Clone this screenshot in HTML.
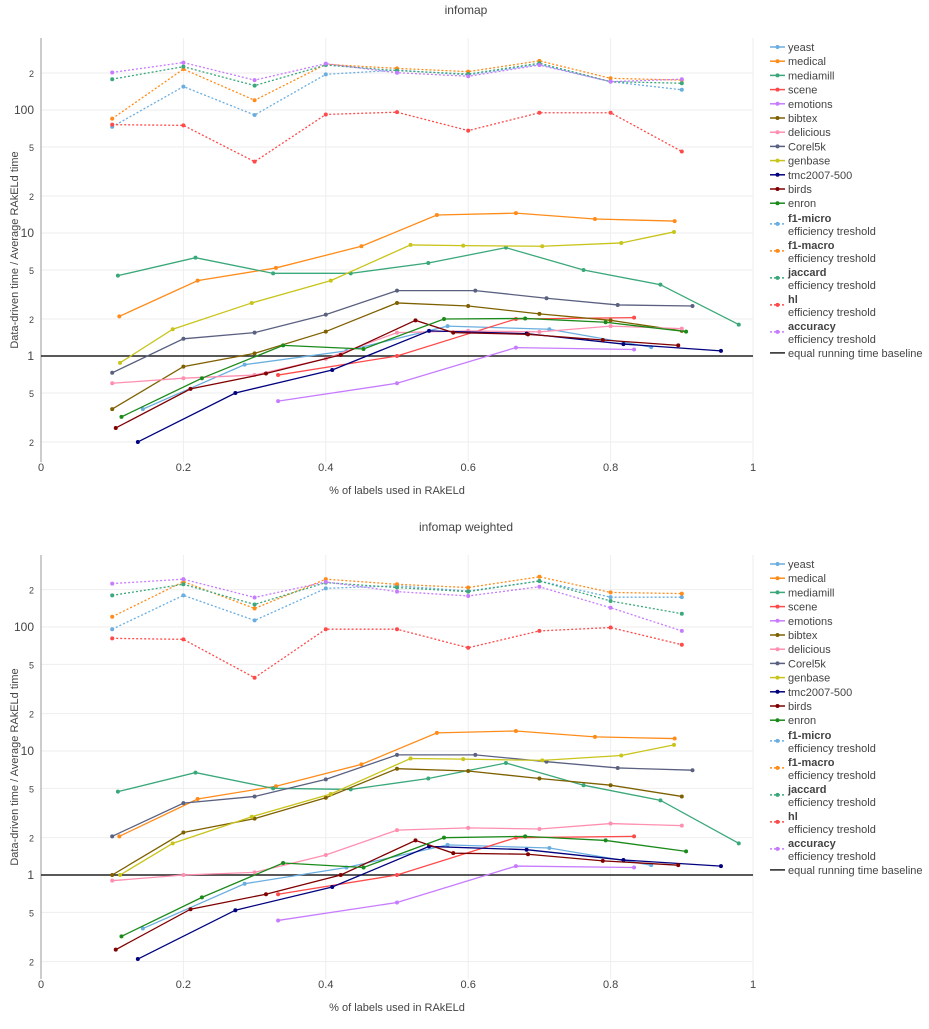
<!DOCTYPE html>
<html><head><meta charset="utf-8"><style>
body{margin:0;background:#fff;font-family:"Liberation Sans",sans-serif;}
svg text{font-family:"Liberation Sans",sans-serif;fill:#444;}
</style></head><body>
<svg id="chart" width="929" height="1024" xmlns="http://www.w3.org/2000/svg"></svg>
<script>
// ---- data ----
const xTicks = [0, 0.2, 0.4, 0.6, 0.8, 1];
const xTickLabels = ["0", "0.2", "0.4", "0.6", "0.8", "1"];
const yTicks = [0.2, 0.5, 1, 2, 5, 10, 20, 50, 100, 200];
const yTickLabels = ["2", "5", "1", "2", "5", "10", "2", "5", "100", "2"];
const effX = [0.1, 0.2, 0.3, 0.4, 0.5, 0.6, 0.7, 0.8, 0.9];

const xYeast = [0.143, 0.286, 0.429, 0.571, 0.714, 0.857];
const topYeast = [0.37, 0.85, 1.1, 1.75, 1.65, 1.18];
const botYeast = [0.37, 0.85, 1.15, 1.75, 1.65, 1.2];
const xMedical = [0.11, 0.22, 0.33, 0.45, 0.556, 0.667, 0.778, 0.89];
const topMedical = [2.1, 4.1, 5.2, 7.8, 14, 14.5, 13, 12.5];
const botMedical = [2.05, 4.1, 5.2, 7.8, 14, 14.5, 13, 12.6];
const xMediamill = [0.108, 0.217, 0.326, 0.435, 0.544, 0.653, 0.762, 0.87, 0.98];
const topMediamill = [4.5, 6.3, 4.7, 4.7, 5.7, 7.6, 5.0, 3.8, 1.8];
const botMediamill = [4.7, 6.7, 5.0, 4.9, 6.0, 8.0, 5.3, 4.0, 1.8];
const xScene = [0.333, 0.5, 0.667, 0.833];
const topScene = [0.7, 1.0, 2.0, 2.05];
const botScene = [0.7, 1.0, 2.0, 2.05];
const xEmotions = [0.333, 0.5, 0.667, 0.833];
const topEmotions = [0.43, 0.6, 1.17, 1.13];
const botEmotions = [0.43, 0.6, 1.18, 1.15];
const xBibtex = [0.1, 0.2, 0.3, 0.4, 0.5, 0.6, 0.7, 0.8, 0.9];
const topBibtex = [0.37, 0.82, 1.05, 1.58, 2.7, 2.55, 2.2, 1.95, 1.6];
const botBibtex = [1.0, 2.2, 2.85, 4.2, 7.2, 6.9, 6.0, 5.3, 4.3];
const xDelicious = [0.1, 0.2, 0.3, 0.4, 0.5, 0.6, 0.7, 0.8, 0.9];
const topDelicious = [0.6, 0.66, 0.7, 0.95, 1.55, 1.6, 1.57, 1.75, 1.67];
const botDelicious = [0.9, 1.0, 1.05, 1.45, 2.3, 2.4, 2.35, 2.6, 2.5];
const xCorel = [0.1, 0.2, 0.3, 0.4, 0.5, 0.61, 0.71, 0.81, 0.915];
const topCorel = [0.73, 1.38, 1.55, 2.17, 3.4, 3.4, 2.95, 2.6, 2.55];
const botCorel = [2.05, 3.8, 4.3, 5.9, 9.3, 9.3, 8.2, 7.3, 7.0];
const xGenbase = [0.111, 0.185, 0.296, 0.407, 0.519, 0.593, 0.704, 0.815, 0.889];
const topGenbase = [0.88, 1.65, 2.7, 4.1, 8.0, 7.9, 7.8, 8.3, 10.2];
const botGenbase = [1.0, 1.8, 2.95, 4.5, 8.7, 8.6, 8.4, 9.2, 11.2];
const xTmc = [0.136, 0.273, 0.409, 0.545, 0.682, 0.818, 0.955];
const topTmc = [0.2, 0.5, 0.77, 1.6, 1.52, 1.25, 1.1];
const botTmc = [0.21, 0.52, 0.8, 1.7, 1.6, 1.32, 1.18];
const xBirds = [0.105, 0.21, 0.316, 0.421, 0.526, 0.579, 0.684, 0.789, 0.895];
const topBirds = [0.26, 0.54, 0.72, 1.02, 1.95, 1.55, 1.5, 1.35, 1.22];
const botBirds = [0.25, 0.53, 0.7, 1.0, 1.9, 1.5, 1.47, 1.3, 1.2];
const xEnron = [0.113, 0.226, 0.34, 0.453, 0.566, 0.68, 0.793, 0.906];
const topEnron = [0.32, 0.66, 1.22, 1.14, 2.0, 2.02, 1.88, 1.58];
const botEnron = [0.32, 0.66, 1.25, 1.15, 2.0, 2.05, 1.9, 1.55];

const topF1micro = [73, 155, 91, 195, 211, 193, 235, 170, 146];
const topF1macro = [85, 215, 120, 235, 218, 205, 251, 181, 175];
const topJaccard = [178, 225, 158, 232, 209, 196, 240, 170, 165];
const topHl = [76, 75, 38, 92, 96, 68, 95, 95, 46];
const topAccuracy = [202, 243, 175, 238, 201, 188, 232, 170, 178];
const botF1micro = [96, 180, 113, 205, 215, 195, 235, 174, 174];
const botF1macro = [121, 232, 141, 243, 221, 208, 254, 190, 186];
const botJaccard = [180, 221, 152, 228, 208, 193, 235, 162, 128];
const botHl = [81, 79.5, 39, 96, 96, 68, 93, 99, 72];
const botAccuracy = [224, 243, 173, 231, 193, 178, 211, 143, 93];

const NS = "http://www.w3.org/2000/svg";
const svg = document.getElementById("chart");
function mk(tag, attrs, parent) {
  const e = document.createElementNS(NS, tag);
  for (const k in attrs) e.setAttribute(k, attrs[k]);
  (parent || svg).appendChild(e);
  return e;
}
const X0 = 41, X1 = 753;
function sx(v) { return X0 + (X1 - X0) * v; }

const series = [
  ["yeast", "#6aaee0", xYeast, topYeast, botYeast],
  ["medical", "#ff8c1a", xMedical, topMedical, botMedical],
  ["mediamill", "#3aa87a", xMediamill, topMediamill, botMediamill],
  ["scene", "#ff4a4a", xScene, topScene, botScene],
  ["emotions", "#c77cff", xEmotions, topEmotions, botEmotions],
  ["bibtex", "#7f6000", xBibtex, topBibtex, botBibtex],
  ["delicious", "#ff8fb0", xDelicious, topDelicious, botDelicious],
  ["Corel5k", "#5a6080", xCorel, topCorel, botCorel],
  ["genbase", "#c8c41a", xGenbase, topGenbase, botGenbase],
  ["tmc2007-500", "#00007f", xTmc, topTmc, botTmc],
  ["birds", "#800000", xBirds, topBirds, botBirds],
  ["enron", "#1a8a1a", xEnron, topEnron, botEnron]
];
const effSeries = [
  ["f1-micro", "#6aaee0", topF1micro, botF1micro],
  ["f1-macro", "#ff8c1a", topF1macro, botF1macro],
  ["jaccard", "#3aa87a", topJaccard, botJaccard],
  ["hl", "#ff4a4a", topHl, botHl],
  ["accuracy", "#c77cff", topAccuracy, botAccuracy]
];

function drawPanel(idx, title, yTop, yBot, y1, dec, legTop) {
  const g = mk("g", {});
  
  
  const sy = v => y1 - dec * Math.log10(v);
  const t = mk("text", {x: 466, y: yTop - 24, "text-anchor": "middle", "font-size": 12}, g);
  t.textContent = title;
  
  
  // grid
  xTicks.forEach((v, i) => {
    if (i > 0) {
      const l = mk("line", {x1: sx(v), x2: sx(v), y1: yTop, y2: yBot, stroke: "#eee", "stroke-width": 1}, g);
      
      
    }
    const tx = mk("text", {x: sx(v), y: yBot + 9, "text-anchor": "middle", "font-size": 11}, g);
    tx.textContent = xTickLabels[i];
    
    
  });
  yTicks.forEach((v, i) => {
    const y = sy(v);
    const l = mk("line", {x1: X0, x2: X1, y1: y, y2: y, stroke: "#eee", "stroke-width": 1}, g);
    
    
    const big = (v === 1 || v === 10 || v === 100);
    const ty = mk("text", {x: 34, y: y + 4, "text-anchor": "end", "font-size": big ? 12 : 9}, g);
    ty.textContent = yTickLabels[i];
    
    
  });
  const ax = mk("line", {x1: X0, x2: X0, y1: yTop, y2: yBot, stroke: "#999", "stroke-width": 1}, g);
  
  
  const xt = mk("text", {x: 397, y: yBot + 32, "text-anchor": "middle", "font-size": 11}, g);
  xt.textContent = "% of labels used in RAkELd";
  
  
  const ymid = (yTop + yBot) / 2;
  const yt = mk("text", {x: 18, y: ymid, "text-anchor": "middle", "font-size": 11, transform: `rotate(-90 18 ${ymid})`}, g);
  yt.textContent = "Data-driven time / Average RAkELd time";
  
  
  // baseline
  const bl = mk("line", {x1: X0, x2: X1, y1: sy(1), y2: sy(1), stroke: "#222", "stroke-width": 1.6}, g);
  
  
  // efficiency dashed
  effSeries.forEach(s => {
    const vals = s[2 + idx];
    const pts = effX.map((x, i) => sx(x) + "," + sy(vals[i])).join(" ");
    const p = mk("polyline", {points: pts, fill: "none", stroke: s[1], "stroke-width": 1.3, "stroke-dasharray": "2,2"}, g);
    
    
    effX.forEach((x, i) => {
      const c = mk("circle", {cx: sx(x), cy: sy(vals[i]), r: 2, fill: s[1]}, g);
      
      
    });
  });
  // solid series
  series.forEach(s => {
    const xs = s[2], vals = s[3 + idx];
    const pts = xs.map((x, i) => sx(x) + "," + sy(vals[i])).join(" ");
    const p = mk("polyline", {points: pts, fill: "none", stroke: s[1], "stroke-width": 1.3}, g);
    
    
    xs.forEach((x, i) => {
      const c = mk("circle", {cx: sx(x), cy: sy(vals[i]), r: 2, fill: s[1]}, g);
      
      
    });
  });
  // legend
  const lg = mk("g", {}, g);
  
  
  let y = legTop;
  series.forEach(s => {
    const e = mk("g", {}, lg);
    
    
    mk("line", {x1: 770, x2: 785, y1: y, y2: y, stroke: s[1], "stroke-width": 1.5}, e);
    mk("circle", {cx: 777.5, cy: y, r: 2, fill: s[1]}, e);
    const tt = mk("text", {x: 788, y: y + 4, "font-size": 11}, e);
    tt.textContent = s[0];
    y += 14.2;
  });
  y += 0.5;
  effSeries.forEach(s => {
    const e = mk("g", {}, lg);
    
    
    mk("line", {x1: 770, x2: 785, y1: y + 6, y2: y + 6, stroke: s[1], "stroke-width": 1.5, "stroke-dasharray": "2,2"}, e);
    mk("circle", {cx: 777.5, cy: y + 6, r: 2, fill: s[1]}, e);
    const t1 = mk("text", {x: 788, y: y + 4, "font-size": 11, "font-weight": "bold"}, e);
    t1.textContent = s[0];
    const t2 = mk("text", {x: 788, y: y + 17, "font-size": 11}, e);
    t2.textContent = "efficiency treshold";
    y += 27;
  });
  const e = mk("g", {}, lg);
  
  
  mk("line", {x1: 770, x2: 785, y1: y, y2: y, stroke: "#222", "stroke-width": 1.5}, e);
  const tt = mk("text", {x: 788, y: y + 4, "font-size": 11}, e);
  tt.textContent = "equal running time baseline";
}
drawPanel(0, "infomap", 38, 462, 356, 123, 47);
drawPanel(1, "infomap weighted", 555, 979, 875, 124, 564);
</script>
</body></html>
